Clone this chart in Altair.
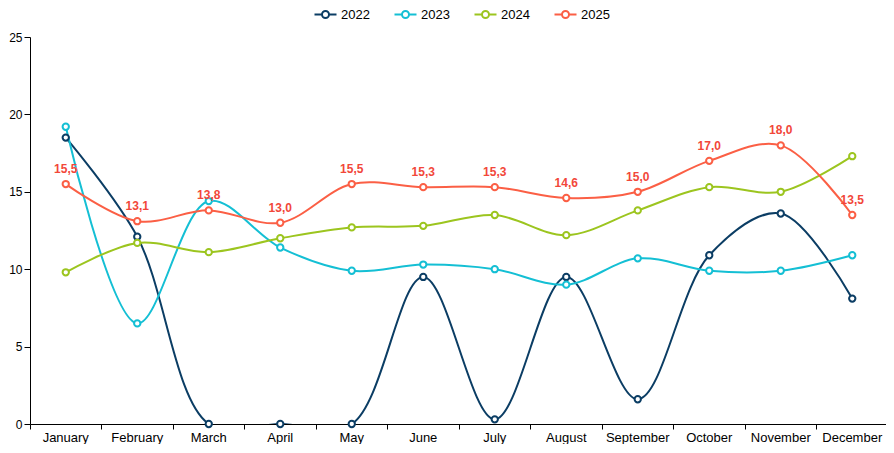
import altair as alt
import pandas as pd

months = ["January", "February", "March", "April", "May", "June", "July",
          "August", "September", "October", "November", "December"]
years = ["2022", "2023", "2024", "2025"]
v2022 = [18.5, 12.1, 0.0, 0.0, 0.0, 9.5, 0.3, 9.5, 1.6, 10.9, 13.6, 8.1]
v2023 = [19.2, 6.5, 14.4, 11.4, 9.9, 10.3, 10.0, 9.0, 10.7, 9.9, 9.9, 10.9]
v2024 = [9.8, 11.7, 11.1, 12.0, 12.7, 12.8, 13.5, 12.2, 13.8, 15.3, 15.0, 17.3]
v2025 = [15.5, 13.1, 13.8, 13.0, 15.5, 15.3, 15.3, 14.6, 15.0, 17.0, 18.0, 13.5]
colors = ["#0b3d64", "#14bfd4", "#9cc51f", "#fb5f45"]
label_color = "#f2473a"

rows = []
for y, vals in zip(years, [v2022, v2023, v2024, v2025]):
    for m, v in zip(months, vals):
        rows.append({"month": m, "year": y, "value": v})
df = pd.DataFrame(rows)

W, H = 858, 387
FONT = "Liberation Sans"

x = alt.X("month:N", sort=months,
          scale=alt.Scale(type="band", paddingInner=0, paddingOuter=0),
          bandPosition=0.5,
          axis=alt.Axis(title=None, labelAngle=0, bandPosition=0, tickSize=5,
                        domainColor="black", tickColor="black", labelColor="black",
                        labelFontSize=13, labelPadding=2, grid=False))
y = alt.Y("value:Q", scale=alt.Scale(domain=[0, 25], nice=False),
          axis=alt.Axis(title=None, values=[0, 5, 10, 15, 20, 25], tickSize=6,
                        domainColor="black", tickColor="black", labelColor="black",
                        labelFontSize=12, grid=False, labelPadding=2))
sym = "M-2.2,0L-0.7,0M0.7,0L2.2,0M0.7,0A0.7,0.7,0,1,1,-0.7,0A0.7,0.7,0,1,1,0.7,0"
color = alt.Color("year:N", scale=alt.Scale(domain=years, range=colors),
                  legend=alt.Legend(title=None, orient="none", direction="horizontal",
                                    legendX=289, legendY=-29,
                                    symbolType=sym, symbolSize=100, symbolStrokeWidth=2,
                                    labelFontSize=13, labelColor="black",
                                    columnPadding=20, labelOffset=9))

base = alt.Chart(df)
lines = base.mark_line(interpolate="catmull-rom", strokeWidth=2, clip=True).encode(
    x=x, y=y, color=color)
points = base.mark_point(filled=False, fill="white", size=40, strokeWidth=2, opacity=1).encode(
    x=x, y=y, color=color)
labels = base.transform_filter(alt.datum.year == "2025").transform_calculate(
    lbl="replace(format(datum.value, '.1f'), '.', ',')"
).mark_text(dy=-15, fontWeight="bold", fontSize=12, color=label_color, font=FONT).encode(
    x=x, y=y, text="lbl:N")
endtick = alt.Chart(pd.DataFrame({"k": [0]})).mark_rule(color="black").encode(
    x=alt.value(W - 1), y=alt.value(H), y2=alt.value(H + 5))

chart = alt.layer(lines, points, labels, endtick).properties(
    width=W, height=H, padding={"left": 0, "top": 0, "right": -2, "bottom": 0}
).configure(font=FONT).configure_view(strokeWidth=0, stroke="transparent")

chart.save("out.html", embed_options={"renderer": "svg", "actions": False})
